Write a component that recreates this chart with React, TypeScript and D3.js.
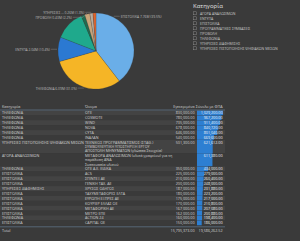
import React from 'react';
import * as d3 from 'd3';

const pieCategories = [
  'ΕΠΙΣΤΟΛΙΚΑ',
  'ΤΗΛΕΦΩΝΙΑ',
  'ΕΝΤΥΠΑ',
  'ΠΡΟΓΡΑΜΜΑΤΙΚΕΣ ΣΥΜΒΑΣΕΙΣ',
  'ΑΓΟΡΑ ΑΝΑΛΩΣΙΜΩΝ',
  'ΠΡΟΒΟΛΗ',
  'ΥΠΗΡΕΣΙΕΣ ΔΙΑΦΗΜΙΣΗΣ',
  'ΥΠΗΡΕΣΙΕΣ ΠΙΣΤΟΠΟΙΗΣΗΣ ΨΗΦΙΑΚΩΝ ΜΕΣΩΝ',
];
const pieValues = [7.76, 6.09, 2.04, 2.51, 0.3, 0.43, 0.26, 0.25];
const pieColors = ['#6aaee8', '#f5b526', '#2b79d2', '#1fa98c', '#1f6b50', '#c9a57a', '#b9ada0', '#dc6530'];
const pieLabelled = [true, true, true, false, false, true, true, false];
const pieLabelNames = ['ΕΠΙΣΤΟΛΙΚΑ', 'ΤΗΛΕΦΩΝΙΑ', 'ΕΝΤΥΠΑ', '', '', 'ΠΡΟΒΟΛΗ', 'ΥΠΗΡΕΣΙΕΣ ...', ''];

const slicerTitle = 'Κατηγορία';
const slicerItems = [
  'ΑΓΟΡΑ ΑΝΑΛΩΣΙΜΩΝ',
  'ΕΝΤΥΠΑ',
  'ΕΠΙΣΤΟΛΙΚΑ',
  'ΠΡΟΓΡΑΜΜΑΤΙΚΕΣ ΣΥΜΒΑΣΕΙΣ',
  'ΠΡΟΒΟΛΗ',
  'ΤΗΛΕΦΩΝΙΑ',
  'ΥΠΗΡΕΣΙΕΣ ΔΙΑΦΗΜΙΣΗΣ',
  'ΥΠΗΡΕΣΙΕΣ ΠΙΣΤΟΠΟΙΗΣΗΣ ΨΗΦΙΑΚΩΝ ΜΕΣΩΝ',
];

const tableHeaders = ['Κατηγορία', 'Όνομα', 'Εγκεκριμένα', 'Σύνολο με ΦΠΑ'];
const rowCategories = [
  'ΤΗΛΕΦΩΝΙΑ', 'ΤΗΛΕΦΩΝΙΑ', 'ΤΗΛΕΦΩΝΙΑ', 'ΤΗΛΕΦΩΝΙΑ', 'ΤΗΛΕΦΩΝΙΑ', 'ΤΗΛΕΦΩΝΙΑ',
  'ΥΠΗΡΕΣΙΕΣ ΠΙΣΤΟΠΟΙΗΣΗΣ ΨΗΦΙΑΚΩΝ ΜΕΣΩΝ',
  'ΑΓΟΡΑ ΑΝΑΛΩΣΙΜΩΝ',
  'ΤΗΛΕΦΩΝΙΑ',
  'ΕΠΙΣΤΟΛΙΚΑ', 'ΕΠΙΣΤΟΛΙΚΑ', 'ΕΠΙΣΤΟΛΙΚΑ',
  'ΥΠΗΡΕΣΙΕΣ ΔΙΑΦΗΜΙΣΗΣ',
  'ΕΠΙΣΤΟΛΙΚΑ', 'ΕΠΙΣΤΟΛΙΚΑ', 'ΕΠΙΣΤΟΛΙΚΑ', 'ΕΠΙΣΤΟΛΙΚΑ', 'ΕΠΙΣΤΟΛΙΚΑ',
  'ΤΗΛΕΦΩΝΙΑ',
  'ΕΠΙΣΤΟΛΙΚΑ',
];
const rowNames = [
  'ΟΤΕ', 'COSMOTE', 'WIND', 'NOVA', 'CYTA', 'ΙΝΑΛΑΝ',
  'ΤΕΧΝΙΚΟΣ ΠΡΟΓΡΑΜΜΑΤΙΣΜΟΣ (ΣΤΑΘ.)\nΣΥΜΒΟΥΛΕΥΤΙΚΗ ΥΠΟΣΤΗΡΙΞΗ ΕΡΓΟΥ\nΑΠΟΣΤΟΛΗ ΜΗΝΥΜΑΤΩΝ (γλώσσα Στοιχεία)',
  'ΜΕΤΑΦΟΡΑ ΑΝΑΛΩΣΙΜΩΝ (υλικά γραφείου) για τη\nπαράδοση ΑΝΑ\nΣυσκευασία υλικού',
  'ΟΤΕ Α.Ε. ΕΙΔΙΚΑ',
  'ACS', 'ΣΠΙΝΤΕΞ ΑΕ', 'ΓΕΝΙΚΗ ΤΑΧ. ΑΕ',
  'ΧΡΥΣΟΣ ΟΔΗΓΟΣ',
  'ΤΑΧΥΜΕΤΑΦΟΡΕΣ ΕΛΤΑ', 'ΕΥΡΩΠΗ ΕΞΠΡΕΣ ΑΕ', 'ΚΟΥΡΙΕΡ ΕΛΛΑΣ ΟΕ', 'ΜΕΤΑΦΟΡΙΚΗ ΑΕ', 'ΜΕΤΡΟ ΕΠΕ',
  'ACTION 24',
  'CAPITAL ΟΕ',
];
const rowApproved = [
  830000, 780000, 735000, 678000, 646000, 540000, 501300, null, 350000,
  225000, 210000, 200000, 187000, 180000, 175000, 170000, 167000, 162000, 160000, 150000,
];
const rowWithVat = [
  1029200, 967200, 911400, 840720, 801040, 669600, 621612, 611380, 434000,
  279000, 260400, 248000, 231880, 223200, 217000, 210800, 207080, 200880, 198400, 186000,
];
const totalLabel = 'Total';
const totalApproved = 15795373;
const totalWithVat = 19586262.52;

const W = 300;
const H = 241;
const FONT = "'Open Sans', 'Noto Sans', sans-serif";
const fmt = d3.format(',.2f');

export default function App() {
  // ---- pie ----
  const cx = 96, cy = 51, r = 38;
  const pieData = pieCategories.map((c, i) => ({ c, v: pieValues[i], i }));
  const total = d3.sum(pieValues);
  const arcs = d3.pie<any>().sort(null).value((d: any) => d.v)(pieData);
  const arcGen = d3.arc<any>().innerRadius(0).outerRadius(r);

  const labels: any[] = [];
  arcs.forEach((a: any) => {
    const i = a.data.i;
    if (!pieLabelled[i]) return;
    const frac = i === 0 ? 0.19 : 0.5;
    const ang = a.startAngle + (a.endAngle - a.startAngle) * frac;
    const ax = cx + (r + 1) * Math.sin(ang);
    const ay = cy - (r + 1) * Math.cos(ang);
    const right = Math.sin(ang) > 0 && i === 0;
    labels.push({ i, ax, ay, y: ay, right, pct: a.data.v / total });
  });
  const left = labels.filter((l) => !l.right).sort((a, b) => a.y - b.y);
  for (let k = 1; k < left.length; k++) {
    if (left[k].y - left[k - 1].y < 5) left[k].y = left[k - 1].y + 5;
  }

  // ---- table ----
  const rowH = 4.9, lineH = 4.2;
  const tableRight = 225;
  const headerY = 106, headerLineY = 110;
  const col1X = 2, col2X = 85, col3R = 194.5, col4L = 197, col4R = 222.5;
  const barScale = d3.scaleLinear().domain([0, d3.max(rowWithVat) as number]).range([0, 26]);
  let top = headerLineY + 0.5;
  const rows = rowNames.map((n, i) => {
    const lines = n.split('\n');
    const h = rowH + (lines.length - 1) * lineH;
    const row = { i, top, h, lines };
    top += h;
    return row;
  });
  const totalY = top + 4.8;

  const textFill = '#d2d2d2';
  const fs = 3.7;

  return (
    <svg width={W} height={H} style={{ position: 'fixed', left: 0, top: 0, fontFamily: FONT }}>
      <rect x={0} y={0} width={W} height={H} fill="#3a3a3a" />
      {arcs.map((a: any) => (
        <path key={a.data.i} d={arcGen(a) as string} transform={`translate(${cx},${cy})`} fill={pieColors[a.data.i]} stroke="#3a3a3a" strokeWidth={0.2} />
      ))}
      {labels.map((l) => {
        const dir = l.right ? 1 : -1;
        const pushed = Math.abs(l.y - l.ay) > 0.5;
        const ex = l.ax + dir * (pushed ? 4 : 0);
        const tx = ex + dir * (pushed ? 10 : 6);
        const txt = `${pieLabelNames[l.i]} ${d3.format('.2f')(pieValues[l.i])}M (${d3.format('.1%')(l.pct)})`;
        return (
          <g key={l.i}>
            <polyline points={`${l.ax},${l.ay} ${ex},${l.y} ${tx},${l.y}`} fill="none" stroke="#9a9a9a" strokeWidth={0.4} />
            <text x={tx + dir * 1} y={l.y} fontSize={3.3} fill="#bdbdbd" dominantBaseline="central" textAnchor={l.right ? 'start' : 'end'}>{txt}</text>
          </g>
        );
      })}
      <text x={193} y={6} fontSize={6} fill="#e0e0e0" dominantBaseline="central">{slicerTitle}</text>
      {slicerItems.map((s, i) => {
        const y = 13.3 + i * 5;
        return (
          <g key={s}>
            <rect x={193.5} y={y - 1.5} width={3} height={3} fill="none" stroke="#9a9a9a" strokeWidth={0.4} />
            <text x={200} y={y} fontSize={3.5} fill="#c8c8c8" dominantBaseline="central">{s}</text>
          </g>
        );
      })}
      <text x={col1X} y={headerY} fontSize={fs} fill={textFill} dominantBaseline="central">{tableHeaders[0]}</text>
      <text x={col2X} y={headerY} fontSize={fs} fill={textFill} dominantBaseline="central">{tableHeaders[1]}</text>
      <text x={col3R} y={headerY} fontSize={fs} fill={textFill} dominantBaseline="central" textAnchor="end">{tableHeaders[2]}</text>
      <text x={col4R} y={headerY} fontSize={fs} fill={textFill} dominantBaseline="central" textAnchor="end">{tableHeaders[3]}</text>
      {rows.map((row) => (
        <g key={row.i}>
          <rect x={0} y={row.top} width={tableRight} height={row.h} fill={row.i % 2 === 0 ? '#434343' : '#3a3a3a'} />
          <rect x={col4L} y={row.top} width={barScale(rowWithVat[row.i])} height={row.h} fill="#2d7fd2" />
          <text x={col1X} y={row.top + rowH / 2} fontSize={fs} fill={textFill} dominantBaseline="central">{rowCategories[row.i]}</text>
          {row.lines.map((ln, k) => (
            <text key={k} x={col2X} y={row.top + rowH / 2 + k * lineH} fontSize={fs} fill={textFill} dominantBaseline="central">{ln}</text>
          ))}
          {rowApproved[row.i] != null && (
            <text x={col3R} y={row.top + rowH / 2} fontSize={fs} fill={textFill} dominantBaseline="central" textAnchor="end">{fmt(rowApproved[row.i] as number)}</text>
          )}
          <text x={col4R} y={row.top + rowH / 2} fontSize={fs} fill="#f2f2f2" dominantBaseline="central" textAnchor="end">{fmt(rowWithVat[row.i])}</text>
        </g>
      ))}
      <line x1={0} x2={tableRight} y1={headerLineY} y2={headerLineY} stroke="#5d7185" strokeWidth={0.8} />
      <line x1={0} x2={tableRight} y1={top + 1.5} y2={top + 1.5} stroke="#5d7185" strokeWidth={0.8} />
      <text x={col1X} y={totalY} fontSize={fs} fill={textFill} dominantBaseline="central">{totalLabel}</text>
      <text x={col3R} y={totalY} fontSize={fs} fill={textFill} dominantBaseline="central" textAnchor="end">{fmt(totalApproved)}</text>
      <text x={col4R} y={totalY} fontSize={fs} fill={textFill} dominantBaseline="central" textAnchor="end">{fmt(totalWithVat)}</text>
    </svg>
  );
}
